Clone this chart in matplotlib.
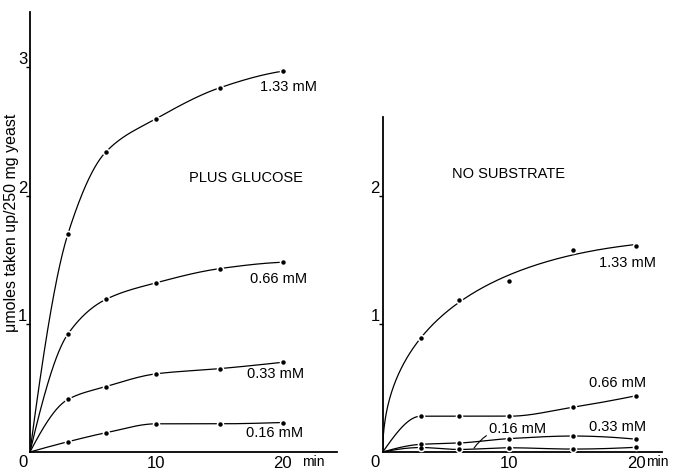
import matplotlib.pyplot as plt
import numpy as np

plt.rcParams['font.family'] = ['Liberation Sans', 'DejaVu Sans']

# sampling times (min)
minutes = [3, 6, 10, 15, 20]

# uptake with glucose, umoles / 250 mg yeast
glucose_133 = [1.70, 2.34, 2.60, 2.84, 2.97]
glucose_066 = [0.92, 1.19, 1.32, 1.43, 1.48]
glucose_033 = [0.41, 0.51, 0.61, 0.65, 0.70]
glucose_016 = [0.08, 0.15, 0.22, 0.22, 0.23]

# uptake without substrate
nosub_133 = [0.89, 1.19, 1.34, 1.58, 1.61]
nosub_066 = [0.28, 0.28, 0.28, 0.35, 0.44]
nosub_033 = [0.06, 0.07, 0.105, 0.125, 0.10]
nosub_016 = [0.035, 0.02, 0.033, 0.023, 0.037]

conc_labels = ['1.33 mM', '0.66 mM', '0.33 mM', '0.16 mM']


def pchip(x, y, xs):
    """monotone cubic through (x, y), evaluated at xs"""
    x = np.asarray(x, float)
    y = np.asarray(y, float)
    h = np.diff(x)
    d = np.diff(y) / h
    n = len(x)
    m = np.zeros(n)
    for k in range(1, n - 1):
        if d[k - 1] * d[k] <= 0:
            m[k] = 0.0
        else:
            w1 = 2 * h[k] + h[k - 1]
            w2 = h[k] + 2 * h[k - 1]
            m[k] = (w1 + w2) / (w1 / d[k - 1] + w2 / d[k])

    def end_slope(h0, h1, d0, d1):
        s = ((2 * h0 + h1) * d0 - h0 * d1) / (h0 + h1)
        if np.sign(s) != np.sign(d0):
            return 0.0
        if np.sign(d0) != np.sign(d1) and abs(s) > abs(3 * d0):
            return 3 * d0
        return s

    m[0] = end_slope(h[0], h[1], d[0], d[1])
    m[-1] = end_slope(h[-1], h[-2], d[-1], d[-2])

    idx = np.clip(np.searchsorted(x, xs) - 1, 0, n - 2)
    t = (xs - x[idx]) / h[idx]
    h00 = 2 * t**3 - 3 * t**2 + 1
    h10 = t**3 - 2 * t**2 + t
    h01 = -2 * t**3 + 3 * t**2
    h11 = t**3 - t**2
    return (h00 * y[idx] + h10 * h[idx] * m[idx]
            + h01 * y[idx + 1] + h11 * h[idx] * m[idx + 1])


def sqrt_fit(x, y, xs):
    """least-squares cubic in sqrt(t), forced through the origin"""
    s = np.sqrt(np.asarray(x, float))
    A = np.column_stack([s, s**2, s**3])
    coef, *_ = np.linalg.lstsq(A, np.asarray(y, float), rcond=None)
    ss = np.sqrt(xs)
    return coef[0] * ss + coef[1] * ss**2 + coef[2] * ss**3


def draw_curve(ax, x, y, smooth=False):
    xf = np.linspace(0, x[-1], 400)
    if smooth:
        yf = sqrt_fit(x, y, xf)
    else:
        yf = pchip([0] + list(x), [0] + list(y), xf)
    ax.plot(xf, yf, color='black', lw=0.9, zorder=2)
    # white ring so the line breaks around each dot
    ax.plot(x, y, 'o', ms=5.5, color='white', mec='none', zorder=3)
    ax.plot(x, y, 'o', ms=3.2, color='black', mec='none', zorder=4)


def setup_axes(ax, xmax, ymax, yticks, min_offset):
    ax.set_xlim(0, xmax)
    ax.set_ylim(0, ymax)
    for s in ['top', 'right']:
        ax.spines[s].set_visible(False)
    for s in ['left', 'bottom']:
        ax.spines[s].set_linewidth(1.3)
    ax.set_xticks([10, 20])
    ax.set_xticklabels(['10', '20'], fontsize=12)
    ax.tick_params(axis='x', length=0, pad=3)
    ax.set_yticks(yticks)
    ax.set_yticklabels([])
    ax.tick_params(axis='y', direction='out', length=3, width=1.0)
    for v in yticks:
        ax.annotate(str(v), xy=(0, v), xycoords=('axes fraction', 'data'),
                    xytext=(-2, 0), textcoords='offset points',
                    ha='right', va='bottom', fontsize=12)
    ax.annotate('0', xy=(0, 0), xycoords='axes fraction', xytext=(-2, -2),
                textcoords='offset points', ha='right', va='top', fontsize=12)
    ax.annotate('min', xy=(20, 0), xycoords='data', xytext=(min_offset, -2),
                textcoords='offset points', ha='left', va='top', fontsize=10)


fig = plt.figure(figsize=(6.75, 4.76), dpi=100)

# left panel: plus glucose
ax1 = fig.add_axes([0.0444, 0.0504, 0.455, 0.924])
setup_axes(ax1, 24.3, 3.43, [1, 2, 3], 14)
for series in [glucose_133, glucose_066, glucose_033, glucose_016]:
    draw_curve(ax1, minutes, series)
ax1.text(18.2, 2.85, conc_labels[0], fontsize=10.5, va='center')
ax1.text(17.4, 1.35, conc_labels[1], fontsize=10.5, va='center')
ax1.text(17.2, 0.61, conc_labels[2], fontsize=10.5, va='center')
ax1.text(17.1, 0.15, conc_labels[3], fontsize=10.5, va='center')
ax1.text(12.6, 2.14, 'PLUS GLUCOSE', fontsize=10.5, va='center')
ax1.set_ylabel('\u03bcmoles taken up/250 mg yeast', fontsize=11.5)
ax1.yaxis.set_label_coords(-0.036, 0.52)

# right panel: no substrate
ax2 = fig.add_axes([0.567, 0.0504, 0.413, 0.704])
setup_axes(ax2, 22.0, 2.62, [1, 2], 7)
draw_curve(ax2, minutes, nosub_133, smooth=True)
for series in [nosub_066, nosub_033, nosub_016]:
    draw_curve(ax2, minutes, series)
ax2.text(17.1, 1.48, conc_labels[0], fontsize=10.5, va='center')
ax2.text(16.3, 0.54, conc_labels[1], fontsize=10.5, va='center')
ax2.text(16.3, 0.195, conc_labels[2], fontsize=10.5, va='center')
ax2.annotate(conc_labels[3], xy=(7.2, 0.03), xytext=(8.4, 0.18),
             fontsize=10.5, va='center', ha='left',
             arrowprops=dict(arrowstyle='-', lw=0.8, color='black',
                             shrinkA=0, shrinkB=0,
                             connectionstyle='arc3,rad=0.3'))
ax2.text(5.5, 2.17, 'NO SUBSTRATE', fontsize=10.5, va='center')

fig.savefig('out.png', dpi=100)
